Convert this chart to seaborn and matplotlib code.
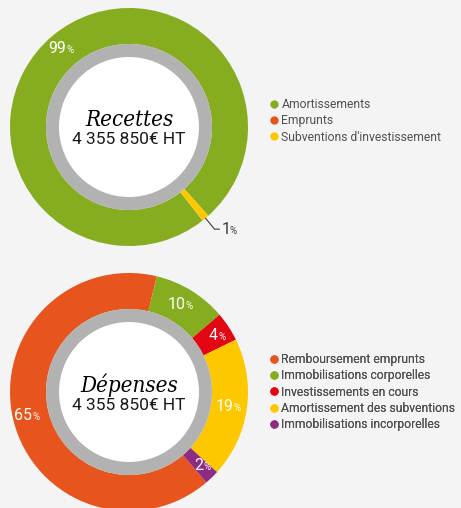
import numpy as np
import matplotlib
matplotlib.use('Agg')
import matplotlib.pyplot as plt
import seaborn as sns
from matplotlib.lines import Line2D
from matplotlib.patches import Circle

sns.set_theme(style='white')
plt.rcParams['font.family'] = ['Roboto', 'DejaVu Sans']

# Data
recettes_labels = ['Amortissements', 'Emprunts', "Subventions d'investissement"]
recettes_values = [99, 0, 1]
recettes_colors = ['#86ad1f', '#e8541e', '#fec800']

depenses_labels = ['Remboursement emprunts', 'Immobilisations corporelles',
                   'Investissements en cours', 'Amortissement des subventions',
                   'Immobilisations incorporelles']
depenses_values = [65, 10, 4, 19, 2]
depenses_colors = ['#e8541e', '#86ad1f', '#e30613', '#fec800', '#8e2c84']

total_text = '4 355 850€ HT'

BG = '#f4f4f4'
TXT = '#505050'
R_OUT, R_RING, R_HOLE = 119, 83, 70

fig = plt.figure(figsize=(4.61, 5.08), dpi=100, facecolor=BG)
ax = fig.add_axes([0, 0, 1, 1])
ax.set_facecolor(BG)


def donut(center, values, colors, title, startangle, counterclock, outside=()):
    wedges, _ = ax.pie(values, colors=colors, startangle=startangle,
                       counterclock=counterclock, center=center, radius=R_OUT,
                       wedgeprops=dict(width=R_OUT - R_RING, linewidth=0))
    ax.add_patch(Circle(center, R_RING, color='#b2b2b2', lw=0, zorder=3))
    ax.add_patch(Circle(center, R_HOLE, color='white', lw=0, zorder=4))
    cx, cy = center
    ax.text(cx, cy + 7, title, ha='center', va='center', fontsize=16,
            family='DejaVu Serif', style='italic', fontstretch='condensed',
            color='black', zorder=5)
    ax.text(cx, cy - 13, total_text, ha='center', va='center', fontsize=12.5,
            color='#1a1a1a', zorder=5)
    for w, v in zip(wedges, values):
        if v == 0:
            continue
        ang = np.deg2rad((w.theta1 + w.theta2) / 2)
        if v in outside:
            x0 = cx + R_OUT * np.cos(ang)
            y0 = cy + R_OUT * np.sin(ang)
            x1, y1 = x0 + 9, y0 - 11
            ax.plot([x0, x1, x1 + 5], [y0, y1, y1], color='#3c3c3c', lw=0.8, zorder=5)
            ax.text(x1 + 7, y1, f'{v}', ha='left', va='center', fontsize=11.5,
                    color='#3c3c3c', zorder=5)
            ax.text(x1 + 15, y1 - 1.5, '%', ha='left', va='center', fontsize=7,
                    color='#3c3c3c', zorder=5)
        else:
            r = 0.86 * R_OUT
            x = cx + r * np.cos(ang)
            y = cy + r * np.sin(ang)
            ax.text(x + 3, y, f'{v}', ha='right', va='center', fontsize=11.5,
                    color='white', zorder=5)
            ax.text(x + 3.5, y - 1.5, '%', ha='left', va='center', fontsize=7,
                    color='white', zorder=5)
    return wedges


def legend(labels, colors, x, y):
    handles = [Line2D([], [], ls='', marker='o', markersize=6, color=c,
                      markeredgewidth=0) for c in colors]
    leg = ax.legend(handles, labels, loc='upper left', bbox_to_anchor=(x, y),
                    bbox_transform=ax.transData, frameon=False, fontsize=8.7,
                    handlelength=0.6, handletextpad=0.35, labelspacing=0.27,
                    borderpad=0, borderaxespad=0, labelcolor=TXT)
    ax.add_artist(leg)


donut((129, 381), recettes_values, recettes_colors, 'Recettes',
      startangle=-48.2, counterclock=True, outside=(1,))
donut((129, 116), depenses_values, depenses_colors, 'Dépenses',
      startangle=-49.5, counterclock=False)

legend(recettes_labels, recettes_colors, 270, 508 - 98)
legend(depenses_labels, depenses_colors, 270, 508 - 353)

ax.set_xlim(0, 461)
ax.set_ylim(0, 508)
ax.set_aspect('equal')
ax.axis('off')

fig.savefig('out.png', dpi=100, facecolor=BG)
